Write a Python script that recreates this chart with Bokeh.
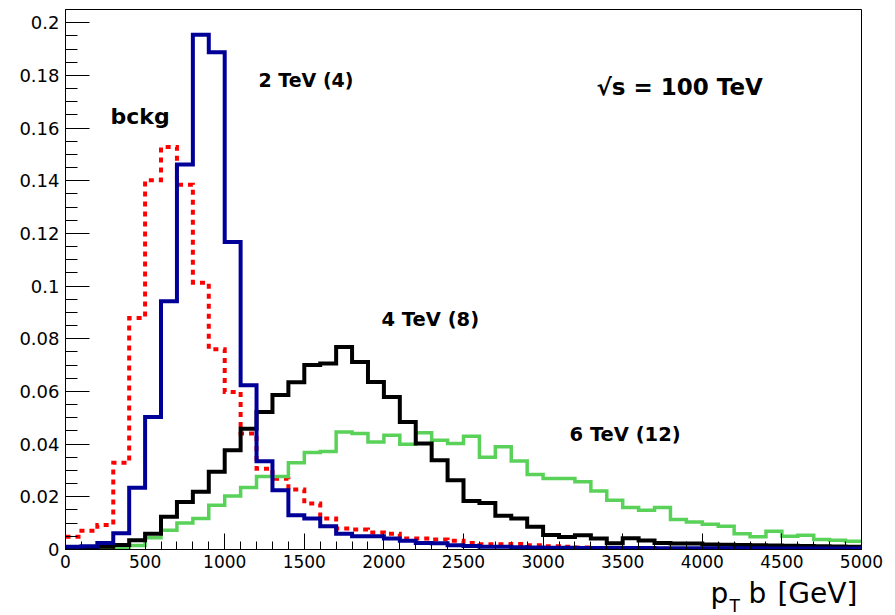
from bokeh.plotting import figure
from bokeh.layouts import column
from bokeh.models import Range1d, FixedTicker, NumeralTickFormatter, Label
from bokeh.embed import file_html
from bokeh.resources import INLINE

# ---------------- data ----------------
bin_edges = list(range(0, 5001, 100))  # GeV, 50 bins of 100 GeV

bckg = [0.0048, 0.0071, 0.0093, 0.0329, 0.0879, 0.1402, 0.1528, 0.1385, 0.1013, 0.0760,
        0.0598, 0.0440, 0.0307, 0.0269, 0.0228, 0.0175, 0.0118, 0.0080, 0.0076, 0.0065,
        0.0060, 0.0042, 0.0042, 0.0038, 0.0033, 0.0025, 0.0020, 0.0020, 0.0021, 0.0016,
        0.0012, 0.0010, 0.0008, 0.0006, 0.0005, 0.0004, 0.0003, 0.0003, 0.0002, 0.0002,
        0.0002, 0.0001, 0.0001, 0.0001, 0.0001, 0.0001, 0.0000, 0.0000, 0.0000, 0.0000]

tev2 = [0.0010, 0.0012, 0.0025, 0.0062, 0.0234, 0.0503, 0.0942, 0.1462, 0.1954, 0.1888,
        0.1167, 0.0624, 0.0335, 0.0225, 0.0130, 0.0118, 0.0088, 0.0060, 0.0050, 0.0050,
        0.0042, 0.0033, 0.0025, 0.0024, 0.0016, 0.0013, 0.0010, 0.0010, 0.0009, 0.0008,
        0.0007, 0.0007, 0.0006, 0.0006, 0.0006, 0.0006, 0.0006, 0.0005, 0.0005, 0.0005,
        0.0005, 0.0005, 0.0005, 0.0005, 0.0004, 0.0004, 0.0004, 0.0004, 0.0004, 0.0004]

tev4 = [0.0003, 0.0005, 0.0010, 0.0017, 0.0035, 0.0060, 0.0124, 0.0180, 0.0219, 0.0295,
        0.0377, 0.0458, 0.0522, 0.0587, 0.0635, 0.0700, 0.0706, 0.0769, 0.0712, 0.0636,
        0.0579, 0.0484, 0.0402, 0.0339, 0.0263, 0.0184, 0.0177, 0.0128, 0.0118, 0.0086,
        0.0055, 0.0047, 0.0054, 0.0042, 0.0024, 0.0043, 0.0034, 0.0025, 0.0023, 0.0023,
        0.0019, 0.0018, 0.0017, 0.0016, 0.0015, 0.0014, 0.0013, 0.0012, 0.0011, 0.0010]

tev6 = [0.0001, 0.0002, 0.0003, 0.0006, 0.0015, 0.0045, 0.0073, 0.0101, 0.0118, 0.0168,
        0.0203, 0.0235, 0.0277, 0.0277, 0.0329, 0.0368, 0.0372, 0.0446, 0.0440, 0.0408,
        0.0434, 0.0400, 0.0443, 0.0415, 0.0402, 0.0430, 0.0350, 0.0390, 0.0336, 0.0285,
        0.0270, 0.0270, 0.0257, 0.0222, 0.0187, 0.0159, 0.0149, 0.0159, 0.0114, 0.0104,
        0.0096, 0.0088, 0.0060, 0.0048, 0.0069, 0.0050, 0.0054, 0.0038, 0.0035, 0.0031]

y_ticks = [0, 0.02, 0.04, 0.06, 0.08, 0.1, 0.12, 0.14, 0.16, 0.18, 0.2]
y_minor = [i * 0.005 for i in range(42)]
x_ticks = [0, 500, 1000, 1500, 2000, 2500, 3000, 3500, 4000, 4500, 5000]
x_minor = list(range(0, 5001, 100))

# ---------------- main figure ----------------
p = figure(width=895, height=575, output_backend="svg", toolbar_location=None,
           x_range=Range1d(0, 5000), y_range=Range1d(0, 0.205),
           min_border_left=65, min_border_right=34, min_border_top=9, min_border_bottom=26)
p.background_fill_color = "white"
p.border_fill_color = "white"
p.outline_line_color = "black"
p.outline_line_width = 1
p.grid.visible = False


def hist(values, color, width, dash="solid"):
    xs = bin_edges
    ys = list(values) + [values[-1]]
    p.step(xs, ys, mode="after", line_color=color, line_width=width,
           line_dash=dash, line_join="miter")


hist(bckg, "#ff0000", 4, "5 5")
hist(tev6, "#5ad25a", 3.5)
hist(tev4, "#000000", 4)
hist(tev2, "#000099", 4)

for ax in (p.xaxis[0], p.yaxis[0]):
    ax.axis_line_color = "black"
    ax.major_tick_line_color = "black"
    ax.minor_tick_line_color = "black"
    ax.major_tick_out = 0
    ax.minor_tick_out = 0
    ax.major_label_text_font = "DejaVu Sans"
    ax.major_label_text_color = "black"

p.yaxis.ticker = FixedTicker(ticks=y_ticks, minor_ticks=y_minor)
p.yaxis.formatter = NumeralTickFormatter(format="0.[00]")
p.yaxis.major_tick_in = 24
p.yaxis.minor_tick_in = 12
p.yaxis.major_label_text_font_size = "18px"
p.yaxis.major_label_standoff = 6

p.xaxis.ticker = FixedTicker(ticks=x_ticks, minor_ticks=x_minor)
p.xaxis.formatter = NumeralTickFormatter(format="0")
p.xaxis.major_tick_in = 16
p.xaxis.minor_tick_in = 8
p.xaxis.major_label_text_font_size = "17px"
p.xaxis.major_label_standoff = 5


def lab(fig, x, y, text, size, bold=True):
    fig.add_layout(Label(x=x, y=y, text=text, text_font="DejaVu Sans",
                         text_font_style="bold" if bold else "normal",
                         text_font_size=size, text_color="black",
                         text_baseline="alphabetic", text_align="left"))


lab(p, 283, 0.1644, "bckg", "22px")
lab(p, 1212, 0.1781, "2 TeV (4)", "19px")
lab(p, 3335, 0.1754, "\u221as = 100 TeV", "23px")
lab(p, 1985, 0.0874, "4 TeV (8)", "19.5px")
lab(p, 3166, 0.0437, "6 TeV (12)", "19.5px")

# ---------------- strip below for the x-axis title (same x mapping) ----------------
p2 = figure(width=895, height=40, output_backend="svg", toolbar_location=None,
            x_range=Range1d(0, 5000), y_range=Range1d(0, 40),
            min_border_left=65, min_border_right=34, min_border_top=0, min_border_bottom=0)
p2.axis.visible = False
p2.grid.visible = False
p2.outline_line_color = None
p2.background_fill_color = "white"
p2.border_fill_color = "white"

lab(p2, 4051, 22, "p", "28px", bold=False)
lab(p2, 4171, 10, "T", "17px", bold=False)
lab(p2, 4290, 22, "b", "28px", bold=False)
lab(p2, 4472, 22, "[GeV]", "28px", bold=False)

layout = column(p, p2, spacing=0)
open("out.html", "w").write(file_html(layout, INLINE))
